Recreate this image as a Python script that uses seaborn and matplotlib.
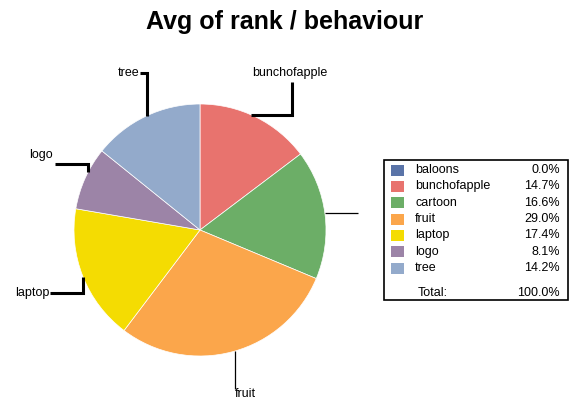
import numpy as np
import matplotlib
matplotlib.use("Agg")
import matplotlib.pyplot as plt
from matplotlib.patches import Rectangle
import seaborn as sns

# data
categories = ["baloons", "bunchofapple", "cartoon", "fruit", "laptop", "logo", "tree"]
shares = [0.0, 14.7, 16.6, 29.0, 17.4, 8.1, 14.2]
colors = ["#5a74a8", "#e8736e", "#6cae67", "#fba64b", "#f4dc02", "#9c84a7", "#93aacb"]
title = "Avg of rank / behaviour"

sns.set_style("white")
plt.rcParams["font.family"] = ["Liberation Sans", "DejaVu Sans"]
plt.rcParams["text.color"] = "black"
pal = sns.color_palette(colors)

# pie centre / radius in pixels, everything else placed in pixels too
CX, CY, R = 200, 230, 126
W, H = 570, 401
FS = 9


def P(px, py):
    return ((px - CX) / R, (CY - py) / R)


fig = plt.figure(figsize=(W / 100, H / 100), dpi=100)
ax = fig.add_axes([0, 0, 1, 1])
ax.pie(shares, colors=pal, startangle=90, counterclock=False, radius=1,
       center=(0, 0), wedgeprops=dict(edgecolor="white", linewidth=0.5))
ax.set_xlim(-CX / R, (W - CX) / R)
ax.set_ylim((CY - H) / R, CY / R)
ax.axis("off")

# mid angle of each wedge
total = sum(shares)
cum = np.cumsum(shares) - np.array(shares) / 2
mid = np.deg2rad(90 - 360 * cum / total)

# leader lines (label pos, path, how the line meets the pie)
leaders = {
    "tree": dict(text=(139, 73, "right"), path=[(140, 73), (147, 73)], end="v", lw=2.2),
    "bunchofapple": dict(text=(290, 73, "center"), path=[(292, 82), (292, 115)], end="h", lw=2.2),
    "logo": dict(text=(53, 155, "right"), path=[(55, 164), (88, 164)], end="v", lw=2.2),
    "laptop": dict(text=(49, 293, "right"), path=[(50, 293), (83, 293)], end="v", lw=2.2),
    "fruit": dict(text=(245, 394, "center"), path=[(235, 389)], end="v", lw=0.9),
    "cartoon": dict(text=None, path=[(358, 213)], end="h", lw=0.9),
}

for name, ld in leaders.items():
    i = categories.index(name)
    pts = [P(*p) for p in ld["path"]]
    lx, ly = pts[-1]
    if ld["end"] == "v":
        ey = np.sign(np.sin(mid[i])) * np.sqrt(1 - lx ** 2)
        pts.append((lx, ey))
    else:
        ex = np.sign(np.cos(mid[i])) * np.sqrt(1 - ly ** 2)
        pts.append((ex, ly))
    xs, ys = zip(*pts)
    ax.plot(xs, ys, color="black", lw=ld["lw"], solid_joinstyle="miter",
            solid_capstyle="butt")
    if ld["text"] is not None:
        tx, ty, ha = ld["text"]
        ax.text(*P(tx, ty), name, ha=ha, va="center", fontsize=FS)

# legend box
x0, y0 = P(384, 300)
ax.add_patch(Rectangle((x0, y0), 184 / R, 140 / R, facecolor="white",
                       edgecolor="black", lw=1.2, zorder=5))
row_y = np.linspace(170, 268, len(categories))
for name, val, c, ry in zip(categories, shares, pal, row_y):
    sx, sy = P(391, ry + 5.5)
    ax.add_patch(Rectangle((sx, sy), 13 / R, 11 / R, facecolor=c, edgecolor="none", zorder=6))
    ax.text(*P(415, ry), name, ha="left", va="center", fontsize=FS, zorder=7)
    ax.text(*P(560, ry), f"{val:.1f}%", ha="right", va="center", fontsize=FS, zorder=7)
ax.text(*P(418, 293), "Total:", ha="left", va="center", fontsize=FS, zorder=7)
ax.text(*P(560, 293), f"{total:.1f}%", ha="right", va="center", fontsize=FS, zorder=7)

ax.text(*P(285, 22), title, ha="center", va="center", fontsize=18, fontweight="bold")

fig.savefig("out.png", dpi=100)
